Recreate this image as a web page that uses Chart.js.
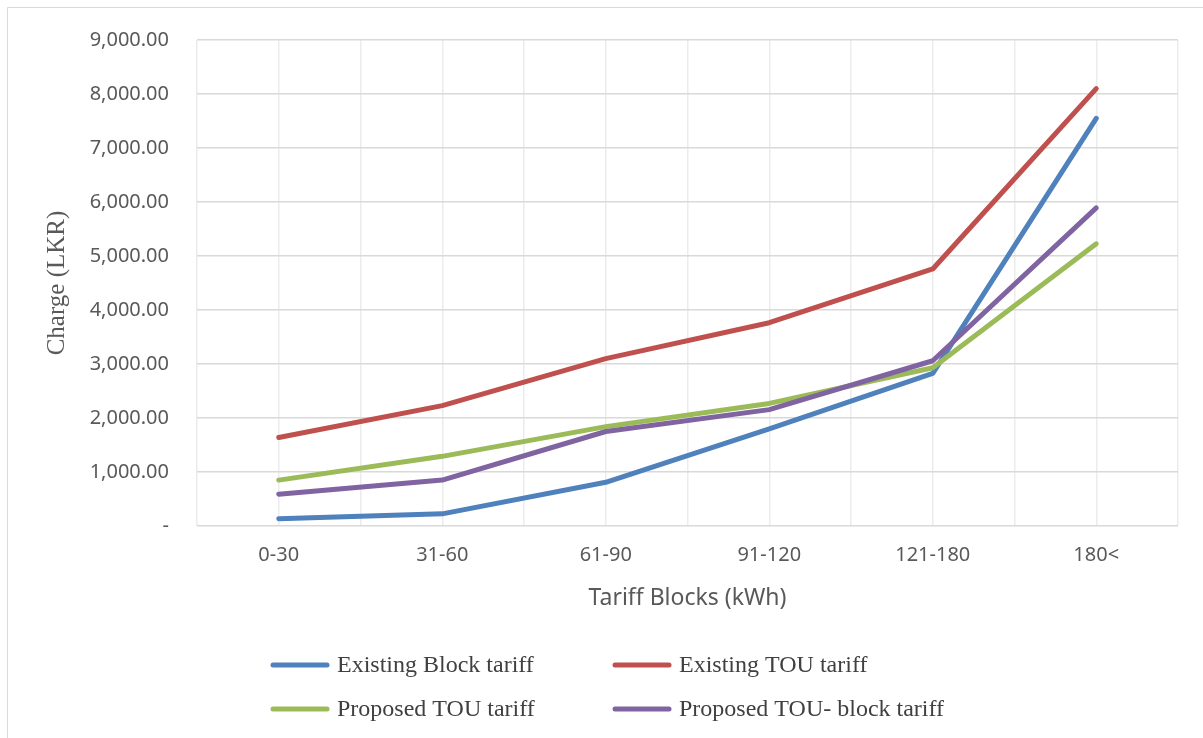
<!DOCTYPE html>
<html>
<head>
<meta charset="utf-8">
<script src="https://cdn.jsdelivr.net/npm/chart.js@4/dist/chart.umd.min.js"></script>
<style>
  html, body { margin: 0; padding: 0; background: #ffffff; }
  #wrap { position: relative; width: 1203px; height: 738px; }
  canvas { display: block; }
</style>
</head>
<body>
<div id="wrap"><canvas id="c" width="1203" height="738"></canvas></div>
<script>
// Tariff blocks on the x axis
const categories = ['0-30', '31-60', '61-90', '91-120', '121-180', '180<'];

// Monthly charge (LKR) under each tariff scheme
const existingBlock = [135, 225, 810, 1800, 2825, 7550];
const existingTOU   = [1640, 2230, 3100, 3765, 4760, 8100];
const proposedTOU   = [850, 1290, 1840, 2270, 2930, 5225];
const proposedTOUBlock = [590, 850, 1750, 2155, 3060, 5890];

const seriesNames = ['Existing Block tariff', 'Existing TOU tariff', 'Proposed TOU tariff', 'Proposed TOU- block tariff'];
const seriesColors = ['#4f81bd', '#c0504d', '#9bbb59', '#8064a2'];

// Y axis ticks
const yMin = 0, yMax = 9000, yStep = 1000;

const fmt = v => v === 0 ? '-' : v.toLocaleString('en-US', {minimumFractionDigits: 2, maximumFractionDigits: 2});

const values = [existingBlock, existingTOU, proposedTOU, proposedTOUBlock];
const datasets = values.map((d, i) => ({
  label: seriesNames[i],
  data: d,
  borderColor: seriesColors[i],
  backgroundColor: seriesColors[i],
  borderWidth: 5,
  borderCapStyle: 'round',
  borderJoinStyle: 'round',
  pointRadius: 0,
  pointHoverRadius: 0,
  tension: 0,
  fill: false,
  order: 10 - i
}));

const sansFamily = '"Noto Sans", "Open Sans", sans-serif';
const serifFamily = '"Liberation Serif", "Times New Roman", serif';

// Outer frame and a two-column legend beneath the plot
const framePlugin = {
  id: 'frame',
  beforeDraw(chart) {
    const ctx = chart.ctx;
    ctx.save();
    ctx.fillStyle = '#ffffff';
    ctx.fillRect(0, 0, chart.width, chart.height);
    ctx.strokeStyle = '#d9d9d9';
    ctx.lineWidth = 1;
    ctx.beginPath();
    ctx.moveTo(7.5, 738);
    ctx.lineTo(7.5, 7.5);
    ctx.lineTo(1203, 7.5);
    ctx.stroke();
    ctx.restore();
  },
  afterDraw(chart) {
    const ctx = chart.ctx;
    const cols = [271, 613];
    const rows = [665, 709];
    ctx.save();
    ctx.font = '24px ' + serifFamily;
    ctx.textBaseline = 'middle';
    chart.data.datasets.forEach((ds, i) => {
      const x = cols[i % 2];
      const y = rows[Math.floor(i / 2)];
      ctx.strokeStyle = ds.borderColor;
      ctx.lineWidth = 5;
      ctx.lineCap = 'round';
      ctx.beginPath();
      ctx.moveTo(x + 2, y);
      ctx.lineTo(x + 56, y);
      ctx.stroke();
      ctx.fillStyle = '#404040';
      ctx.fillText(ds.label, x + 66, y + 1);
    });
    ctx.restore();
  }
};

new Chart(document.getElementById('c'), {
  type: 'line',
  data: { labels: categories, datasets },
  options: {
    responsive: false,
    animation: false,
    devicePixelRatio: 1,
    layout: { padding: { left: 0, top: 38, right: 25, bottom: 112 } },
    plugins: { legend: { display: false }, tooltip: { enabled: false } },
    scales: {
      x: {
        type: 'category',
        offset: true,
        grid: { offset: true, color: '#ececec', lineWidth: 1.5, drawTicks: false },
        border: { display: false },
        ticks: {
          color: '#595959',
          font: { family: sansFamily, size: 20 },
          padding: 17,
          maxRotation: 0
        },
        title: {
          display: true,
          text: 'Tariff Blocks (kWh)',
          color: '#595959',
          font: { family: sansFamily, size: 23 },
          padding: { top: 0, bottom: 14 }
        },
        afterFit(s) { s.height = 100; }
      },
      xc: {
        type: 'category',
        labels: categories,
        position: 'bottom',
        offset: true,
        grid: { offset: false, color: '#ececec', lineWidth: 1.5, drawTicks: false },
        border: { display: false },
        ticks: { display: false },
        afterFit(s) { s.height = 0; }
      },
      y: {
        min: yMin,
        max: yMax,
        grid: { color: '#d9d9d9', lineWidth: 1.5, drawTicks: false },
        border: { display: false },
        ticks: {
          stepSize: yStep,
          color: '#595959',
          font: { family: sansFamily, size: 20 },
          padding: 28,
          callback: v => fmt(v)
        },
        title: {
          display: true,
          text: 'Charge (LKR)',
          color: '#595959',
          font: { family: serifFamily, size: 25 },
          padding: { top: 42, bottom: 0 }
        },
        afterFit(s) { s.width = 197; }
      }
    }
  },
  plugins: [framePlugin]
});
</script>
</body>
</html>
